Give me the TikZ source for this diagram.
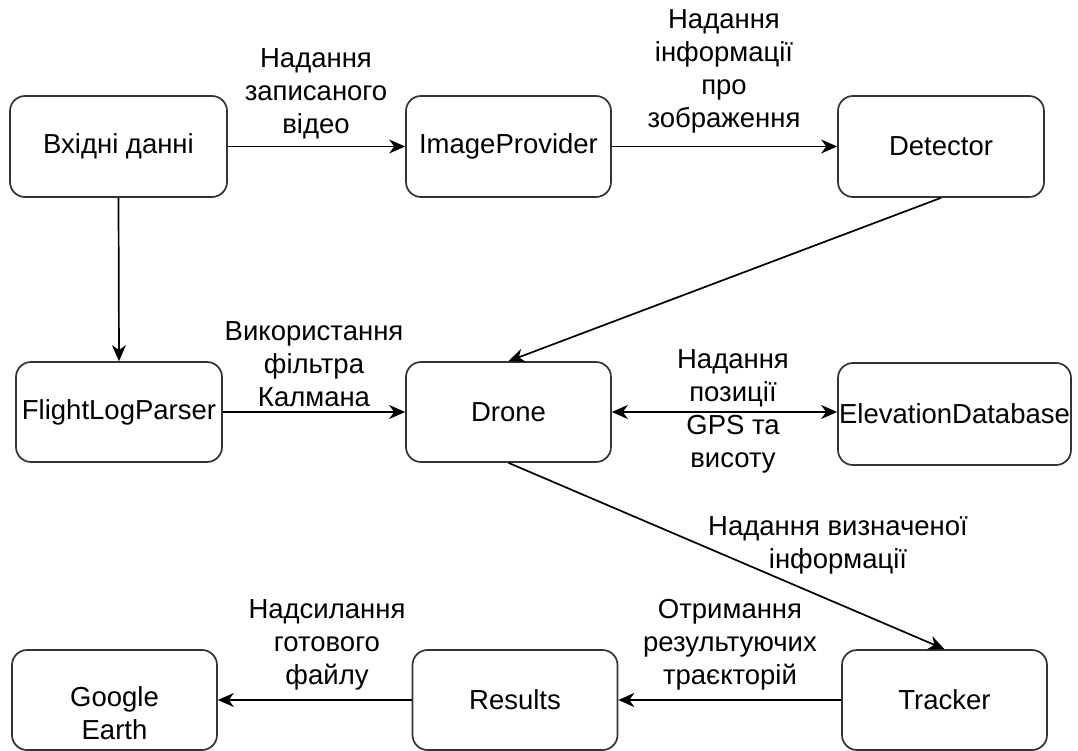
\documentclass[tikz,border=0pt]{standalone}
\usepackage{fontspec}
\setmainfont{Liberation Sans}
\usetikzlibrary{arrows.meta}
\begin{document}
\begin{tikzpicture}[x=1pt,y=-1pt,
  box/.style={draw=black!80, line width=1.7pt, rounded corners=15pt, align=center,
    inner sep=0pt, font=\fontsize{27.5}{33}\selectfont},
  lbl/.style={align=center, inner sep=0pt, font=\fontsize{27.5}{33}\selectfont},
  conn/.style={line width=1.7pt, -{Stealth[length=16pt,width=14pt,inset=5pt]}},
  bconn/.style={line width=1.7pt, {Stealth[length=16pt,width=14pt,inset=5pt]}-{Stealth[length=16pt,width=14pt,inset=5pt]}}]
\useasboundingbox (0,0) rectangle (1078,751);

\node[box, minimum width=217pt, minimum height=101pt] (in) at (118.5,146.5) {Вхідні данні};
\node[box, minimum width=205pt, minimum height=101pt] (ip) at (508.5,146.5) {ImageProvider};
\node[box, minimum width=206pt, minimum height=101pt] (det) at (941,146.5) {Detector};
\node[box, minimum width=206pt, minimum height=100pt] (flp) at (119,412) {FlightLogParser};
\node[box, minimum width=205pt, minimum height=100pt] (drone) at (508.5,412) {Drone};
\node[box, minimum width=233pt, minimum height=102pt] (elev) at (954.5,414) {ElevationDatabase};
\node[box, minimum width=205pt, minimum height=100pt] (ge) at (114.5,700)
  {\raisebox{-23pt}[0pt][0pt]{\begin{tabular}{@{}c@{}}Google\\Earth\end{tabular}}};
\node[box, minimum width=205pt, minimum height=100pt] (res) at (515,700) {Results};
\node[box, minimum width=205pt, minimum height=100pt] (tr) at (944.5,700) {Tracker};

\draw[conn] (in.east) -- (ip.west);
\draw[conn] (ip.east) -- (det.west);
\draw[conn] (in.south) -- (flp.north);
\draw[conn] (det.south) -- (drone.north);
\draw[conn] (flp.east) -- (drone.west);
\draw[bconn] (drone.east) -- (drone.east -| elev.west);
\draw[conn] (drone.south) -- (tr.north);
\draw[conn] (tr.west) -- (res.east);
\draw[conn] (res.west) -- (ge.east);

\node[lbl] (l1) at (316,94) {Надання\\записаного\\відео};
\node[lbl] (l2) at (724,71) {Надання\\інформації\\про\\зображення};
\node[lbl] (l3) at (314,364) {Використання\\фільтра\\Калмана};
\node[lbl] (l4) at (733,411) {Надання\\позиції\\GPS та\\висоту};
\node[lbl] (l5) at (838,545) {Надання визначеної\\інформації};
\node[lbl] (l6) at (730,645) {Отримання\\результуючих\\траєкторій};
\node[lbl] (l7) at (327,645) {Надсилання\\готового\\файлу};
\end{tikzpicture}
\end{document}
